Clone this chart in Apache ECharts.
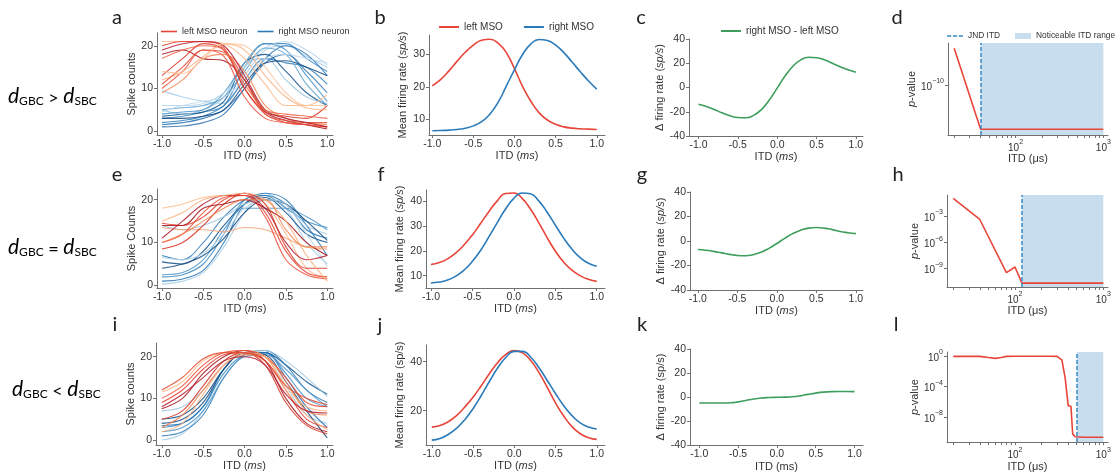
<!DOCTYPE html>
<html><head><meta charset="utf-8">
<script src="https://cdn.jsdelivr.net/npm/echarts@6/dist/echarts.min.js"></script>
<style>html,body{margin:0;padding:0;background:#fff}#c{width:1119px;height:473px}</style>
</head><body><div id="c"></div>
<script>
// ---------------- DATA ----------------
const SPK_ITD = [-1, -0.75, -0.5, -0.25, 0, 0.25, 0.5, 0.75, 1];
const MEAN_ITD = [-1.0,-0.9,-0.8,-0.7,-0.6,-0.5,-0.4,-0.3,-0.2,-0.1,0,0.1,0.2,0.3,0.4,0.5,0.6,0.7,0.8,0.9,1.0];
const X_TICKS = [-1, -0.5, 0, 0.5, 1];

// panel a: spike counts, d_GBC > d_SBC
const aLeft = [
  [21, 21, 21, 20.5, 17, 11, 6, 6, 8.5],
  [20, 21, 21, 19.5, 10, 4, 2, 1.5, 1],
  [18, 19, 17, 16.5, 12, 4.5, 2.5, 1.5, 0.5],
  [13, 17, 20.5, 19, 10, 4.5, 3.5, 3, 6],
  [10, 14, 19, 17.5, 8, 3, 2, 1.5, 1],
  [9, 12, 17, 18, 14, 6, 3, 2, 1.5],
  [12, 14, 17.5, 20.5, 19, 13, 8, 5.5, 5],
  [11, 15, 19, 18.5, 12, 4, 2.5, 2, 2],
  [19, 20.5, 21, 20, 13, 5, 3, 2, 1],
  [14, 13.5, 17, 20.5, 20, 15, 9, 6, 6],
  [17, 19, 20, 19, 11, 5, 4, 3.5, 3]
];
const aRight = [
  [9.5, 8, 7, 6.5, 13, 19, 20, 17.5, 15],
  [3, 3.5, 4.5, 6, 15, 20.5, 20.5, 17, 14],
  [3.5, 4, 4.5, 7, 16, 18, 14, 9, 6],
  [2, 2.5, 3.5, 6, 12, 17, 16, 15, 11],
  [1.5, 2, 3, 5, 10, 17, 20, 18, 13],
  [5, 4, 5, 8, 16, 17, 12, 8, 6.5],
  [4, 4.5, 5, 9, 16, 20.5, 19, 13, 7],
  [3, 3, 3.5, 5, 11, 16, 16.5, 15, 13],
  [6, 6, 6.5, 9, 15, 19.5, 21, 19, 15.5],
  [1, 1.2, 2, 4, 10, 16, 18, 14, 9],
  [5, 5.5, 6, 8, 14, 19.5, 18, 11, 6],
  [4.5, 6, 7, 8, 12, 17, 18, 17, 16]
];
// panel e: d_GBC = d_SBC
const eLeft = [
  [18, 19, 20.5, 21, 21, 19, 12, 4, 1.5],
  [14.5, 14, 16, 20, 21.5, 17, 8, 3, 2],
  [13.5, 13, 13, 12.5, 13.5, 13, 11, 9, 8.5],
  [11, 15, 19, 21, 21, 18, 10, 6, 7],
  [10, 12, 17, 20.5, 21, 16, 6, 2.5, 1.5],
  [8.5, 10, 14, 19, 21.5, 19, 9, 4, 4],
  [14, 14, 18, 19, 20, 18, 15, 10, 7],
  [15, 17, 20, 21, 21.5, 20, 15, 7, 1],
  [10, 12, 15, 18, 20, 20, 13, 9, 9]
];
const eRight = [
  [0.3, 1, 3, 9, 17, 21.5, 18, 10, 5],
  [2, 2.5, 5, 12, 20, 21, 18, 15, 13.5],
  [5.5, 5, 8, 14, 19, 20.5, 17, 12, 10],
  [7, 6, 10, 16, 20, 21.5, 20, 14, 7],
  [1, 1.5, 3.5, 10, 19, 21, 19, 13, 11],
  [14, 13, 14, 16, 19, 20, 19, 14, 12],
  [2.5, 3, 6, 13, 18, 18, 18, 16, 13],
  [4, 5, 7, 11, 17, 20, 19, 15, 10.5],
  [6.5, 6, 7.5, 12, 18, 20, 19, 12, 4.5]
];
// panel i: d_GBC < d_SBC
const iLeft = [
  [11.5, 14, 19, 21, 21.5, 20, 13, 8, 7],
  [9, 12, 17, 20.5, 21, 19, 12, 5, 3],
  [7.5, 10, 16, 20, 21.5, 19, 10, 4, 2],
  [5, 7, 13, 19, 21, 18, 9, 3.5, 1.5],
  [10, 13, 18, 21, 21.5, 20, 15, 9, 8],
  [3, 6, 12, 18, 20.5, 20, 14, 7, 6],
  [2, 4, 11, 18, 21, 20, 12, 6, 2.5],
  [12, 15, 19.5, 21, 21, 19, 13, 10, 8.5],
  [8, 11, 15, 19, 20, 18, 11, 7, 6.5]
];
const iRight = [
  [0, 1.5, 7, 17, 21, 20, 13, 6, 4],
  [3, 4, 8, 16, 20.5, 21, 16, 10, 8],
  [5, 6, 10, 17, 21, 21, 18, 14, 11],
  [1, 2, 6, 15, 20.5, 21.5, 18, 12, 9],
  [3.5, 4, 8, 17, 21, 21, 15, 8, 3],
  [7, 8, 12, 18, 21, 21.5, 19, 15, 10.5],
  [2, 3, 7, 15, 20, 20.5, 17, 12, 8],
  [4, 5, 9, 17, 21, 20.5, 14, 7, 0.5]
];

// mean firing rates
const bLeft  = [20.3,22.2,24.8,27.8,30.6,32.8,34.3,34.6,33.4,30.5,25.5,20,15.5,12,9.8,8.5,7.7,7.3,7.1,7.0,6.9];
const bRight = [6.5,6.6,6.7,6.9,7.3,8.0,9.3,11.6,15.2,20.2,25.3,30.0,33.2,34.5,34.2,32.8,30.5,27.6,24.6,21.8,19.3];
const fLeft  = [14.5,15.3,16.8,19.2,22.5,26.5,31.2,36,40.3,43.3,43.5,41.3,37,31.5,25.5,20,15.5,12.2,10,8.5,7.7];
const fRight = [7,7.4,8.2,9.8,12.3,15.8,20.3,25.8,31.5,37,41.3,43.5,43.2,40.3,35.8,30.5,25.3,20.8,17.3,15,13.8];
const jLeft  = [13.3,14,15.5,18,21.5,25.5,30.2,35.2,39.7,43,44.5,43.6,40.5,35.5,29.5,23.2,17.8,13.5,10.6,9,8.3];
const jRight = [8,8.7,10.3,12.8,16.3,20.8,26.2,32,37.5,41.8,44.2,44.2,41.8,37.5,32.3,27,22,18,15,13.3,12.5];

// delta firing rate (right - left)
const cDiff = [-13.8,-15.6,-18.1,-20.9,-23.3,-24.8,-25,-23,-18.2,-10.3,-0.5,9.5,17.5,22.8,25,24.6,22.8,20,17.2,14.6,12.5];
const gDiff = [-7,-7.5,-8.5,-9.7,-10.9,-11.8,-12,-11.2,-9.2,-6,-2,2.2,6,8.8,10.5,11,10.5,9.3,7.8,6.8,6];
const kDiff = [-5,-5,-5,-5,-4.8,-4,-2.8,-1.6,-0.8,-0.4,-0.2,-0.1,0.2,1,2.2,3.3,4.1,4.5,4.6,4.6,4.5];

// p-values vs ITD (us)
const dITD = [20, 40, 1000];
const dP   = [2.3e-6, 4.8e-16, 4.8e-16];
const dJND = 40;
const hITD = [20, 40, 80, 100, 120, 1000];
const hP   = [0.1, 4e-4, 3.5e-10, 1.5e-9, 2.2e-11, 2.2e-11];
const hJND = 120;
const lITD = [20, 40, 50, 60, 70, 80, 100, 150, 200, 250, 300, 340, 370, 400, 430, 450, 480, 500, 600, 800, 1000];
const lP   = [0.85, 0.85, 0.6, 0.47, 0.6, 0.85, 0.9, 0.9, 0.9, 0.9, 0.85, 0.28, 1.3e-3, 3e-7, 2.5e-7, 6e-11, 2.5e-11, 2.2e-11, 2.2e-11, 2.2e-11, 2.2e-11];
const lJND = 500;
const LOG_X_LABELS = [100, 1000];
const LOG_X_TICKS = [20,30,40,50,60,70,80,90,100,200,300,400,500,600,700,800,900,1000];
const ITD_MAX = 1000;

// ---------------- STYLE ----------------
const FONT = "'Liberation Sans', Arial, sans-serif";
const LFONT = "Lato, 'Open Sans', sans-serif";
const AX = '#707070';
const TXT = '#333';
const RED = '#e8453a';
const BLUE = '#2b7bba';
const GREEN = '#3e9e5c';
const SHADE = '#c8ddee';
const JNDC = '#3a8ac6';
const REDS = ['#fdb98a','#e8402f','#a50f15','#d7301f','#ef4a35','#f4824d','#fcb07e','#e34a33','#b2182b','#fdc49c','#f06445'];
const REDS_E = ['#fdb98a','#e8402f','#f7a072','#b2182b','#ef4a35','#d7301f','#a50f15','#fcb07e','#f4824d'];
const BLUES = ['#a6cde6','#3a87c0','#0b4f8a','#2e7ab7','#2171b5','#9ac5e0','#4a94c8','#12467e','#b5d5ea','#2a6fad','#5aa0d0','#c1dbec'];

const grids = [
  {left:157, top:33,  width:176, height:102}, // a
  {left:429, top:35,  width:176, height:100}, // b
  {left:689, top:39,  width:174, height:97},  // c
  {left:948, top:43,  width:160, height:92},  // d
  {left:157, top:189, width:176, height:99},  // e
  {left:426, top:190, width:179, height:98},  // f
  {left:690, top:192, width:173, height:98},  // g
  {left:947, top:195, width:161, height:92},  // h
  {left:156, top:343, width:177, height:102}, // i
  {left:426, top:345, width:179, height:100}, // j
  {left:690, top:349, width:173, height:98},  // k
  {left:947, top:352, width:161, height:92}   // l
];

const nameStyle = {fontSize: 11, color: TXT, fontFamily: FONT,
  rich: {i: {fontStyle: 'italic', fontSize: 11, color: TXT, fontFamily: FONT}}};

function linAxis(gi, min, max, ticks, name, gap, dec) {
  return {
    type: 'value', gridIndex: gi, min: min, max: max,
    axisLine: {show: true, onZero: false, lineStyle: {color: AX, width: 1}},
    axisTick: {show: true, length: 3, customValues: ticks, lineStyle: {color: AX}},
    axisLabel: {customValues: ticks, fontSize: 10.5, color: TXT, fontFamily: FONT, margin: 4,
      formatter: v => dec ? Number(v).toFixed(1) : String(v)},
    splitLine: {show: false},
    name: name, nameLocation: 'middle', nameGap: gap, nameTextStyle: nameStyle
  };
}
function logAxis(gi, min, max, labels, ticks, name, gap) {
  return {
    type: 'log', logBase: 10, gridIndex: gi, min: min, max: max,
    axisLine: {show: true, onZero: false, lineStyle: {color: AX, width: 1}},
    axisTick: {show: true, length: 3, customValues: ticks, lineStyle: {color: AX}},
    axisLabel: {customValues: labels, margin: 4,
      formatter: v => '{b|10}{e|' + String(Math.round(Math.log10(v))).replace('-', '\u2212') + '}',
      rich: {
        b: {fontSize: 10, color: TXT, fontFamily: FONT, verticalAlign: 'bottom', lineHeight: 14},
        e: {fontSize: 7, color: TXT, fontFamily: FONT, verticalAlign: 'top', lineHeight: 8}
      }},
    splitLine: {show: false}, minorSplitLine: {show: false},
    name: name, nameLocation: 'middle', nameGap: gap, nameTextStyle: nameStyle
  };
}

const xAxes = [
  linAxis(0, -1.06, 1.07, X_TICKS, 'ITD ({i|ms})', 14, true),
  linAxis(1, -1.04, 1.10, X_TICKS, 'ITD ({i|ms})', 14, true),
  linAxis(2, -1.12, 1.09, X_TICKS, 'ITD ({i|ms})', 14, true),
  logAxis(3, 17, 1130, LOG_X_LABELS, LOG_X_TICKS, 'ITD (\u03bcs)', 13),
  linAxis(4, -1.06, 1.07, X_TICKS, 'ITD ({i|ms})', 14, true),
  linAxis(5, -1.06, 1.10, X_TICKS, 'ITD ({i|ms})', 14, true),
  linAxis(6, -1.10, 1.09, X_TICKS, 'ITD ({i|ms})', 14, true),
  logAxis(7, 17, 1130, LOG_X_LABELS, LOG_X_TICKS, 'ITD (\u03bcs)', 13),
  linAxis(8, -1.07, 1.07, X_TICKS, 'ITD ({i|ms})', 14, true),
  linAxis(9, -1.07, 1.10, X_TICKS, 'ITD ({i|ms})', 14, true),
  linAxis(10, -1.12, 1.11, X_TICKS, 'ITD (ms)', 14, true),
  logAxis(11, 17, 1130, LOG_X_LABELS, LOG_X_TICKS, 'ITD (\u03bcs)', 13)
];
const yAxes = [
  linAxis(0, -0.9, 23, [0, 10, 20], 'Spike counts', 18, false),
  linAxis(1, 5.2, 35.9, [10, 20, 30], 'Mean firing rate ({i|sp/s})', 21, false),
  linAxis(2, -40, 40, [-40, -20, 0, 20, 40], '\u0394 firing rate ({i|sp/s})', 22, false),
  logAxis(3, 1e-16, 1e-5, [1e-10], [1e-10], '{i|p}-value', 20),
  linAxis(4, -0.6, 22.5, [0, 10, 20], 'Spike Counts', 18, false),
  linAxis(5, 5, 44.7, [10, 20, 30, 40], 'Mean firing rate ({i|sp/s})', 21, false),
  linAxis(6, -40, 40, [-40, -20, 0, 20, 40], '\u0394 firing rate ({i|sp/s})', 22, false),
  logAxis(7, 7.9e-12, 0.25, [1e-9, 1e-6, 1e-3], [1e-9, 1e-6, 1e-3], '{i|p}-value', 20),
  linAxis(8, -1.2, 23.3, [0, 10, 20], 'Spike counts', 18, false),
  linAxis(9, 6, 46.8, [20, 40], 'Mean firing rate (sp/s)', 21, false),
  linAxis(10, -40, 40, [-40, -20, 0, 20, 40], '\u0394 firing rate (sp/s)', 22, false),
  logAxis(11, 5e-12, 3.2, [1e-8, 1e-4, 1], [1e-8, 1e-4, 1], '{i|p}-value', 20)
];

const series = [];
// legend proxies
series.push({type:'line', name:'left MSO neuron', xAxisIndex:0, yAxisIndex:0, data:[], symbol:'none', lineStyle:{color:RED, width:1.5}, itemStyle:{color:RED}});
series.push({type:'line', name:'right MSO neuron', xAxisIndex:0, yAxisIndex:0, data:[], symbol:'none', lineStyle:{color:BLUE, width:1.5}, itemStyle:{color:BLUE}});

function spikes(gi, curves, colors, tag) {
  curves.forEach((vals, k) => {
    series.push({
      type: 'line', name: tag + k, xAxisIndex: gi, yAxisIndex: gi,
      data: SPK_ITD.map((x, i) => [x, vals[i]]),
      smooth: 0.35, symbol: 'none', silent: true,
      lineStyle: {color: colors[k % colors.length], width: 1.1, opacity: 0.85}
    });
  });
}
spikes(0, aRight, BLUES, 'aR'); spikes(0, aLeft, REDS, 'aL');
spikes(4, eRight, BLUES, 'eR'); spikes(4, eLeft, REDS_E, 'eL');
spikes(8, iRight, BLUES, 'iR'); spikes(8, iLeft, REDS, 'iL');

function curve(gi, name, vals, color) {
  series.push({
    type: 'line', name: name, xAxisIndex: gi, yAxisIndex: gi,
    data: MEAN_ITD.map((x, i) => [x, vals[i]]),
    smooth: true, symbol: 'none', silent: true,
    lineStyle: {color: color, width: 1.6}, itemStyle: {color: color}
  });
}
curve(1, 'left MSO', bLeft, RED); curve(1, 'right MSO', bRight, BLUE);
curve(5, 'left MSO', fLeft, RED); curve(5, 'right MSO', fRight, BLUE);
curve(9, 'left MSO', jLeft, RED); curve(9, 'right MSO', jRight, BLUE);
curve(2, 'right MSO - left MSO', cDiff, GREEN);
curve(6, 'right MSO - left MSO', gDiff, GREEN);
curve(10, 'right MSO - left MSO', kDiff, GREEN);

function pPanel(gi, xs, ps, jnd) {
  series.push({
    type: 'line', name: 'Noticeable ITD range', xAxisIndex: gi, yAxisIndex: gi, data: [],
    symbol: 'none', lineStyle: {width: 0}, itemStyle: {color: SHADE},
    markArea: {silent: true, itemStyle: {color: SHADE, opacity: 1}, data: [[{xAxis: jnd}, {xAxis: ITD_MAX}]]}
  });
  series.push({
    type: 'line', name: 'p' + gi, xAxisIndex: gi, yAxisIndex: gi,
    data: xs.map((x, i) => [x, ps[i]]), symbol: 'none', silent: true, z: 3,
    lineStyle: {color: RED, width: 1.6}
  });
  series.push({
    type: 'line', name: 'JND ITD', xAxisIndex: gi, yAxisIndex: gi, data: [],
    symbol: 'none', z: 4, lineStyle: {color: JNDC, width: 1.5, type: [4, 2]}, itemStyle: {color: JNDC},
    markLine: {silent: true, symbol: 'none', label: {show: false}, animation: false,
      lineStyle: {color: JNDC, width: 1.5, type: [4, 2]}, data: [{xAxis: jnd}]}
  });
}
pPanel(3, dITD, dP, dJND);
pPanel(7, hITD, hP, hJND);
pPanel(11, lITD, lP, lJND);

const legTxt = {fontSize: 10, color: TXT, fontFamily: FONT};
const legTxtS = {fontSize: 9, color: TXT, fontFamily: FONT};
const legTxtD = {fontSize: 8.4, color: TXT, fontFamily: FONT};
const DASH_ICON = 'path://M0,0h5v2h-5zM7,0h5v2h-5zM14,0h5v2h-5z';
const legends = [
  {left: 156, top: 22, icon: 'rect', itemWidth: 16, itemHeight: 1.6, itemGap: 10, textStyle: legTxtS, selectedMode: false,
   data: ['left MSO neuron', 'right MSO neuron']},
  {left: 434, top: 17, icon: 'rect', itemWidth: 20, itemHeight: 2, itemGap: 21, textStyle: legTxt, selectedMode: false,
   data: ['left MSO', 'right MSO']},
  {left: 716, top: 21, icon: 'rect', itemWidth: 20, itemHeight: 2, itemGap: 10, textStyle: legTxt, selectedMode: false,
   data: ['right MSO - left MSO']},
  {left: 942, top: 27, icon: DASH_ICON, itemWidth: 16, itemHeight: 2, textStyle: legTxtD, selectedMode: false,
   data: ['JND ITD']},
  {left: 1010, top: 27, icon: 'rect', itemWidth: 16, itemHeight: 6, textStyle: legTxtD, selectedMode: false,
   data: ['Noticeable ITD range']}
];

function letter(ch, x, y) {
  return {type: 'text', x: x, y: y, style: {text: ch, font: "20px " + LFONT, fill: '#222', align: 'center', verticalAlign: 'middle'}};
}
const rowRich = {
  d: {fontSize: 21, fontStyle: 'italic', fontFamily: LFONT, color: '#222', verticalAlign: 'bottom', lineHeight: 24},
  s: {fontSize: 12, fontFamily: LFONT, color: '#222', verticalAlign: 'bottom', lineHeight: 14},
  o: {fontSize: 18, fontFamily: LFONT, color: '#222', verticalAlign: 'bottom', lineHeight: 23}
};
function rowLabel(op, left, top) {
  return {type: 'text', left: left, top: top, style: {text: '{d|d}{s|GBC}{o| ' + op + ' }{d|d}{s|SBC}', rich: rowRich}};
}
const graphics = [
  letter('a', 117, 18), letter('b', 380, 18), letter('c', 641, 18), letter('d', 897, 18),
  letter('e', 117, 175), letter('f', 381, 175), letter('g', 642, 175), letter('h', 898, 175),
  letter('i', 115, 325), letter('j', 380, 326), letter('k', 642, 325), letter('l', 896, 325),
  rowLabel('>', 8, 86), rowLabel('=', 8, 237), rowLabel('<', 12, 379)
];

const chart = echarts.init(document.getElementById('c'), null, {renderer: 'canvas'});
chart.setOption({
  animation: false,
  backgroundColor: '#fff',
  grid: grids,
  xAxis: xAxes,
  yAxis: yAxes,
  legend: legends,
  series: series,
  graphic: graphics
});
</script></body></html>
